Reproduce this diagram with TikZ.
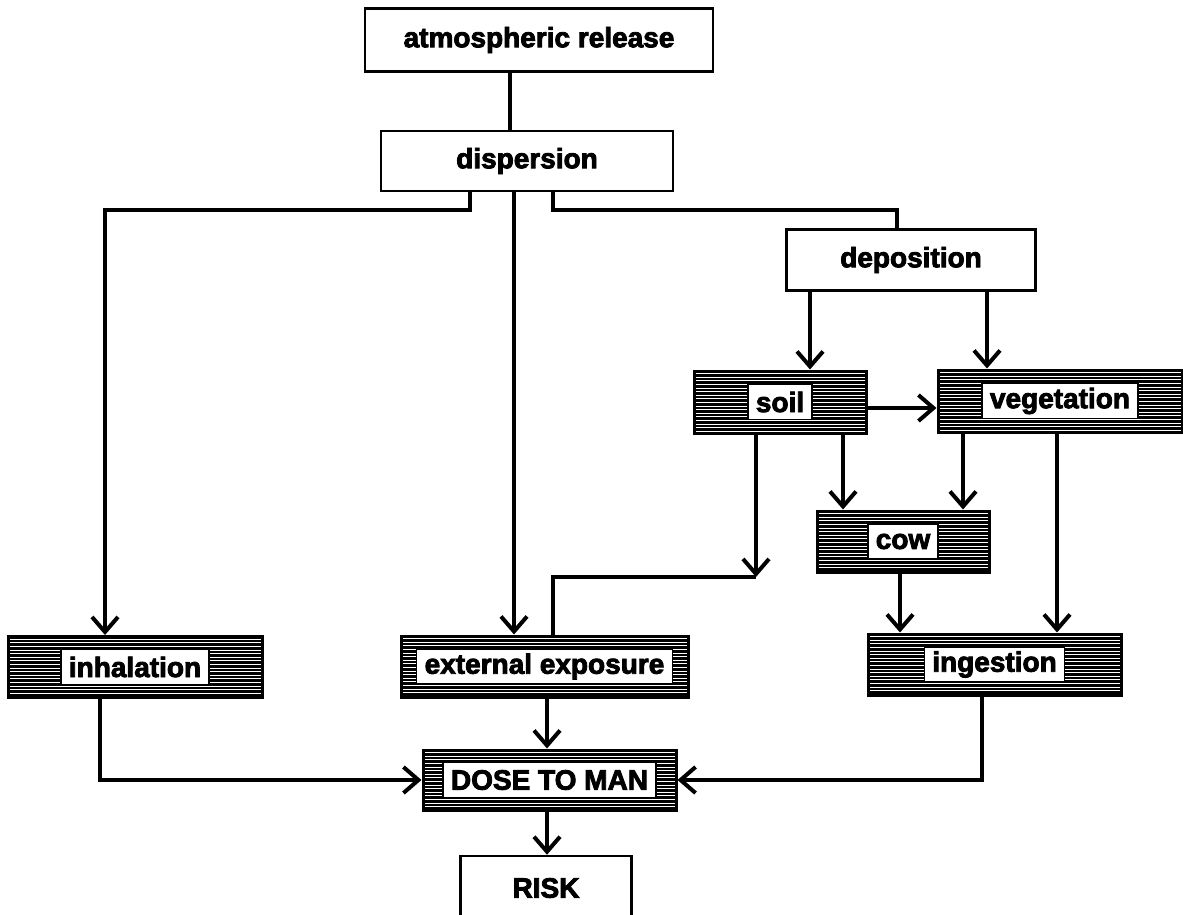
\documentclass[tikz,border=0pt]{standalone}
\usepackage{fontspec}
\setmainfont{Liberation Sans}
\newfontfamily\heavy{Liberation Sans}[BoldFeatures={FakeBold=3}]
\usetikzlibrary{arrows.meta}
\begin{document}
\begin{tikzpicture}[x=1pt,y=-1pt,
 lbl/.style={font=\heavy\bfseries\fontsize{28}{30}\selectfont},
 plain/.style={draw, line width=2.5pt, lbl, inner sep=0pt},
 shaded/.style={draw, line width=3pt, fill=black, inner sep=0pt,
   path picture={\foreach \k in {1,...,22}{\draw[white,line width=0.7pt]
     ([yshift=-\k*3.6pt+1pt]path picture bounding box.north west) --
     ([yshift=-\k*3.6pt+1pt]path picture bounding box.north east);}}},
 inner/.style={draw, fill=white, line width=1.5pt, lbl, inner xsep=8pt, inner ysep=0pt, minimum height=35pt},
 conn/.style={line width=4pt},
 arr/.style={conn, -{Straight Barb[length=15pt,width=26pt]}},
]
\useasboundingbox (0,0) rectangle (1183,915);
% plain boxes
\node[plain, minimum width=348pt, minimum height=63pt] (atm) at (539,40) {atmospheric release};
\node[plain, minimum width=292pt, minimum height=60pt] (disp) at (527,161) {dispersion};
\node[plain, minimum width=249pt, minimum height=61pt] (dep) at (911,260) {deposition};
\node[plain, minimum width=171pt, minimum height=64pt] (risk) at (546,888) {RISK};
% shaded boxes
\node[shaded, minimum width=172pt, minimum height=62pt] (soil) at (780,402) {};
\node[inner] (soilt) at (soil) {soil};
\node[shaded, minimum width=244pt, minimum height=62pt] (veg) at (1060,401) {};
\node[inner] (vegt) at (veg) {vegetation};
\node[shaded, minimum width=172pt, minimum height=61pt] (cow) at (903,541.5) {};
\node[inner] (cowt) at (cow) {cow};
\node[shaded, minimum width=254pt, minimum height=61pt] (inh) at (135,667) {};
\node[inner] (inht) at (inh) {inhalation};
\node[shaded, minimum width=287pt, minimum height=61pt] (ext) at (544.5,666.5) {};
\node[inner] (extt) at (ext) {external exposure};
\node[shaded, minimum width=253pt, minimum height=61pt] (ing) at (994.5,664.5) {};
\node[inner] (ingt) at (ing) {ingestion};
\node[shaded, minimum width=253pt, minimum height=60pt] (dose) at (549.5,780) {};
\node[inner] (doset) at (dose) {DOSE TO MAN};
% connectors
\draw[conn] (atm.south -| 510,0) -- (disp.north -| 510,0);
\draw[arr] (disp.south -| 470,0) -- (470,210) -| (inh.north -| 105,0);
\draw[arr] (disp.south -| 514,0) -- (ext.north -| 514,0);
\draw[conn] (disp.south -| 553,0) -- (553,210) -| (dep.north -| 897,0);
\draw[arr] (dep.south -| 810,0) -- (soil.north -| 810,0);
\draw[arr] (dep.south -| 987,0) -- (veg.north -| 987,0);
\draw[arr] (soil.east |- 0,408) -- (veg.west |- 0,408);
\coordinate (j) at (756,577);
\draw[arr] (soil.south -| 756,0) -- (j);
\draw[conn] (ext.north -| 553,0) |- (j);
\draw[arr] (soil.south -| 843,0) -- (cow.north -| 843,0);
\draw[arr] (veg.south -| 963,0) -- (cow.north -| 963,0);
\draw[arr] (veg.south -| 1057,0) -- (ing.north -| 1057,0);
\draw[arr] (cow.south -| 900,0) -- (ing.north -| 900,0);
\draw[arr] (inh.south -| 100,0) |- (dose.west |- 0,780);
\draw[arr] (ext.south -| 547,0) -- (dose.north -| 547,0);
\draw[arr] (ing.south -| 982,0) |- (dose.east |- 0,780);
\draw[arr] (dose.south -| 547,0) -- (risk.north -| 547,0);
\end{tikzpicture}
\end{document}
